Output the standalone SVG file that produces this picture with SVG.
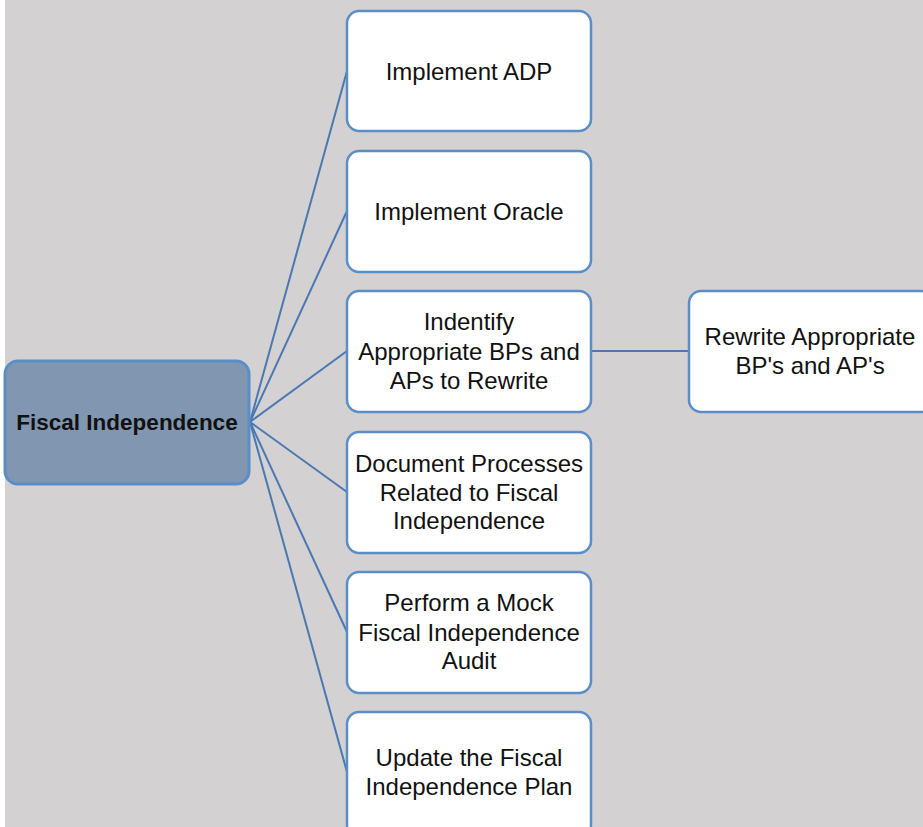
<svg xmlns="http://www.w3.org/2000/svg" width="923" height="827" viewBox="0 0 923 827">
<style>
.bg{fill:#d3d1d2}
.box{fill:#ffffff;stroke:#5b8ec6;stroke-width:2.5}
.root{fill:#8196b0;stroke:#5b8ec6;stroke-width:3}
.t{font-family:"Liberation Sans",Arial,sans-serif;font-size:24px;fill:#111;text-anchor:middle}
.tb{font-family:"Liberation Sans",Arial,sans-serif;font-size:22.5px;font-weight:bold;fill:#111;text-anchor:middle}
.c{stroke:#4a78b0;stroke-width:2;fill:none}
</style>
<rect x="0" y="0" width="923" height="827" fill="#ffffff"/>
<rect class="bg" x="5" y="0" width="918" height="827"/>
<g id="connectors">
<line class="c" x1="250" y1="422" x2="347" y2="71"/>
<line class="c" x1="250" y1="422" x2="347" y2="211"/>
<line class="c" x1="250" y1="422" x2="347" y2="351"/>
<line class="c" x1="250" y1="422" x2="347" y2="492"/>
<line class="c" x1="250" y1="422" x2="347" y2="632"/>
<line class="c" x1="250" y1="422" x2="347" y2="772"/>
<line class="c" x1="591" y1="351" x2="689" y2="351"/>
</g>
<g id="root">
<rect class="root" x="5" y="361" width="244" height="123" rx="13"/>
<text class="tb" x="127" y="430">Fiscal Independence</text>
</g>
<g id="n1">
<rect class="box" x="347" y="11" width="244" height="120" rx="12"/>
<text class="t" x="469" y="80">Implement ADP</text>
</g>
<g id="n2">
<rect class="box" x="347" y="151" width="244" height="121" rx="12"/>
<text class="t" x="469" y="220">Implement Oracle</text>
</g>
<g id="n3">
<rect class="box" x="347" y="291" width="244" height="121" rx="12"/>
<text class="t" x="469" y="330">Indentify</text>
<text class="t" x="469" y="360">Appropriate BPs and</text>
<text class="t" x="469" y="389">APs to Rewrite</text>
</g>
<g id="n4">
<rect class="box" x="347" y="432" width="244" height="121" rx="12"/>
<text class="t" x="469" y="472">Document Processes</text>
<text class="t" x="469" y="501">Related to Fiscal</text>
<text class="t" x="469" y="529">Independence</text>
</g>
<g id="n5">
<rect class="box" x="347" y="572" width="244" height="121" rx="12"/>
<text class="t" x="469" y="611">Perform a Mock</text>
<text class="t" x="469" y="641">Fiscal Independence</text>
<text class="t" x="469" y="669">Audit</text>
</g>
<g id="n6">
<rect class="box" x="347" y="712" width="244" height="125" rx="12"/>
<text class="t" x="469" y="766">Update the Fiscal</text>
<text class="t" x="469" y="795">Independence Plan</text>
</g>
<g id="n7">
<rect class="box" x="689" y="291" width="244" height="121" rx="12"/>
<text class="t" x="810" y="345">Rewrite Appropriate</text>
<text class="t" x="810" y="374">BP's and AP's</text>
</g>
</svg>
